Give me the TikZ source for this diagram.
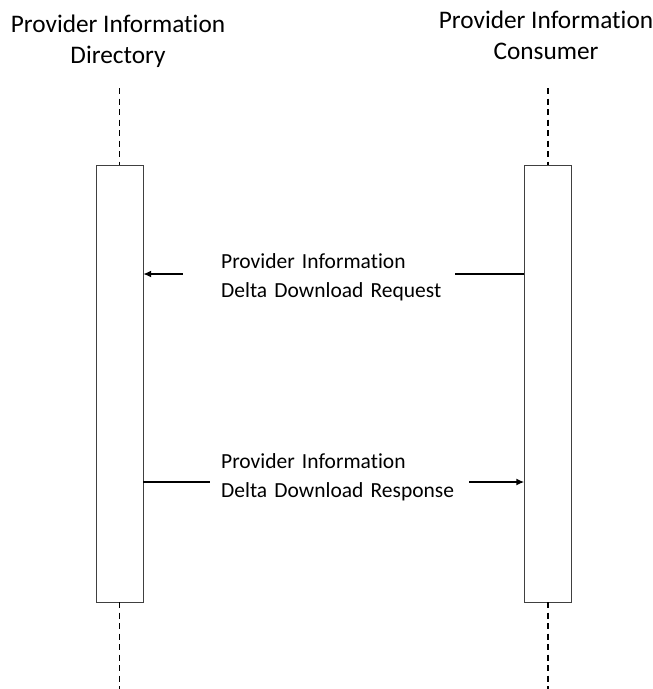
\documentclass[tikz,border=0pt]{standalone}
\usepackage{fontspec}
\setmainfont[Ligatures=NoCommon]{Carlito}
\usetikzlibrary{positioning,arrows.meta}
\begin{document}
\begin{tikzpicture}[x=1pt, y=-1pt,
    actor/.style = {align=center, font=\fontsize{25.3}{31}\selectfont},
    bar/.style = {draw=black!75, fill=white, minimum width=47pt, minimum height=437pt, inner sep=0pt},
    life/.style = {draw, line width=1.8pt, dash pattern=on 6pt off 4.5pt},
    msg/.style = {draw, line width=1.5pt, -{Latex[length=8pt,width=7pt]}},
    label/.style = {fill=white, align=left, inner xsep=0pt, font=\fontsize{21.5}{29}\selectfont}]
    \useasboundingbox (0,0) rectangle (653,689);
    % actors
    \node[actor] (dir) at (118,41) {Provider Information\\Directory};
    \node[actor] (cons) at (546,35) {Provider Information\\Consumer};
    % activation bars
    \node[bar] (dirbar) at (119.5,383.5) {};
    \node[bar] (consbar) at (548,383.5) {};
    \coordinate (dirtop) at (119.5,88);
    \coordinate (dirbot) at (119.5,689);
    \coordinate (constop) at (548,88);
    \coordinate (consbot) at (548,689);
    % lifelines
    \draw[life] (dirtop) -- (dirbar.north);
    \draw[life] (dirbar.south) -- (dirbot);
    \draw[life] (constop) -- (consbar.north);
    \draw[life] (consbar.south) -- (consbot);
    % messages
    \draw[msg] (consbar.west |- 0,274) -- (dirbar.east |- 0,274);
    \node[label, anchor=west, text width=272pt] (req) at (183,277) {\hspace*{38pt}Provider Information\\\hspace*{38pt}Delta Download Request};
    \draw[msg] (dirbar.east |- 0,482) -- (consbar.west |- 0,482);
    \node[label, anchor=west, text width=259pt] (resp) at (210,477) {\hspace*{11pt}Provider Information\\\hspace*{11pt}Delta Download Response};
\end{tikzpicture}
\end{document}
